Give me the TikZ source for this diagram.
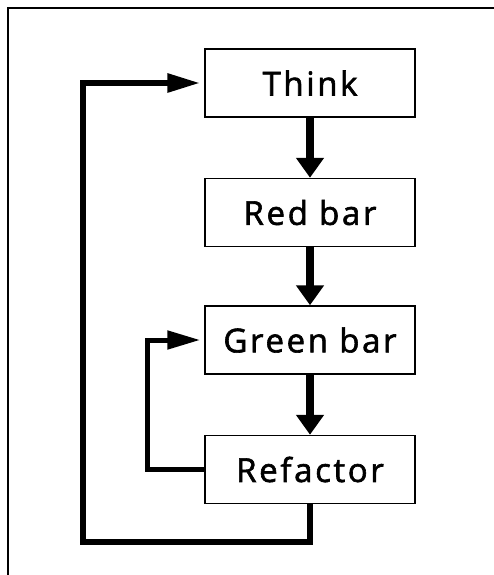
\documentclass[tikz,border=0pt]{standalone}
\usepackage{fontspec}
\setmainfont{Open Sans}[LetterSpace=8,FakeBold=1.8]
\usepackage{tikz}
\usetikzlibrary{arrows.meta,positioning}

\begin{document}
\begin{tikzpicture}[x=1pt,y=-1pt,
	stagebox/.style={draw,line width=1.5pt,minimum width=210pt,minimum height=68pt,inner sep=0pt,font=\fontsize{33}{36}\selectfont},
	flow/.style={line width=8pt,-{Triangle[length=20pt,width=27pt]}},
	loop/.style={line width=6pt,-{Triangle[length=33pt,width=18pt]},shorten >=4pt}]
\useasboundingbox (0,0) rectangle (494,575);
\draw[line width=2pt] (8,575) -- (8,8) -- (494,8);

\node[stagebox] (think) at (310,83) {Think};
\node[stagebox] (red) at (310,212.5) {Red bar};
\node[stagebox] (green) at (310,340) {Green bar};
\node[stagebox] (refactor) at (310,469.5) {Refactor};

\draw[flow] (think) -- (red);
\draw[flow] (red) -- (green);
\draw[flow] (green) -- (refactor);

\coordinate (outer) at (83,542);
\draw[loop] (refactor.south) |- (outer) |- (think.west);
\draw[loop,line width=5pt] (refactor.west) -- ++(-57,0) |- (green.west);

\end{tikzpicture}
\end{document}
